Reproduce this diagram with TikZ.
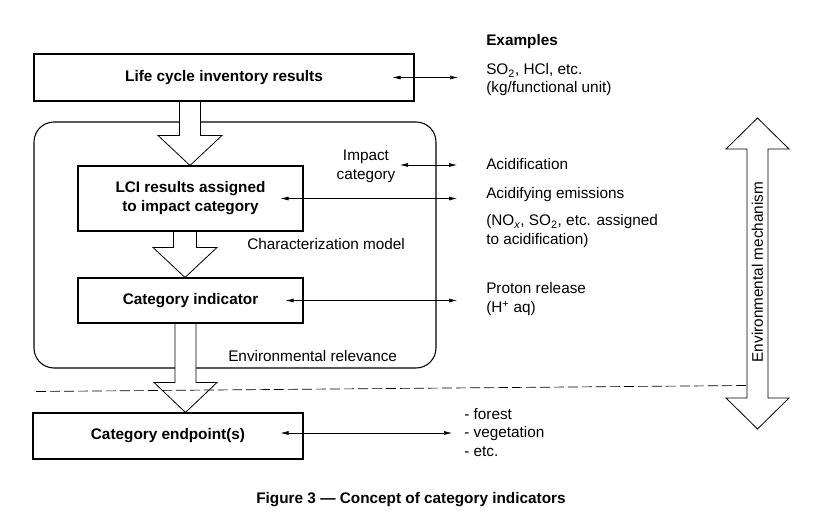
\documentclass[tikz,border=0pt]{standalone}
\usepackage{fontspec}
\setmainfont{Liberation Sans}
\usetikzlibrary{arrows.meta,calc}
\pgfdeclarelayer{bgA}
\pgfdeclarelayer{bgB}
\pgfsetlayers{bgA,bgB,main}
\newcommand\hollowdown[5]{% from node, to node, x coordinate, half shaft, half head
  \coordinate (hdT) at (#1.south -| #3);
  \coordinate (hdB) at (#2.north -| #3);
  \path[hollow] ($(hdT)+(-#4,0)$) -- ($(hdB)+(-#4,-30)$) -- ($(hdB)+(-#5,-30)$) -- (hdB)
    -- ($(hdB)+(#5,-30)$) -- ($(hdB)+(#4,-30)$) -- ($(hdT)+(#4,0)$);
}
\begin{document}
\begin{tikzpicture}[x=0.75pt,y=-0.75pt,
  font=\fontsize{11.5}{14.25}\selectfont,
  box/.style={draw,line width=0.8pt,inner sep=0pt,align=center,font=\fontsize{11.5}{14.25}\selectfont\bfseries},
  hollow/.style={draw,fill=white,line width=0.6pt,line join=miter},
  dbl/.style={{Latex[length=6pt,width=3pt]}-{Latex[length=6pt,width=3pt]},line width=0.45pt},
  lbl/.style={anchor=base west,inner sep=0pt},
  clbl/.style={anchor=base,inner sep=0pt},
]
\useasboundingbox (0,0) rectangle (839,513);

% boxes
\node[box,minimum width=285pt,minimum height=35.25pt] (b1) at (224,77.5) {Life cycle inventory results};
\node[box,minimum width=168.75pt,minimum height=48.75pt] (b2) at (190.5,198.5) {LCI results assigned\\to impact category};
\node[box,minimum width=168.75pt,minimum height=33.75pt] (b3) at (190.5,300.5) {Category indicator};
\node[box,minimum width=202.5pt,minimum height=34.5pt] (b4) at (168,436) {Category endpoint(s)};

% container
\begin{pgfonlayer}{bgA}
\node[draw,line width=0.8pt,rounded corners=15pt,minimum width=301.5pt,minimum height=184.5pt] (ct) at (235,245) {};
\end{pgfonlayer}

% hollow arrows between boxes
\coordinate (ax1) at (190,0);
\coordinate (ax2) at (185,0);
\coordinate (ax3) at (185.5,0);
\begin{pgfonlayer}{bgB}
\hollowdown{b1}{b2}{ax1}{10.5}{32}
\hollowdown{b2}{b3}{ax2}{11.5}{32}
\hollowdown{b3}{b4}{ax3}{10.5}{31.5}
\end{pgfonlayer}

% vertical double hollow arrow
\path[hollow] (747,149) -- (726,149) -- (757.5,118) -- (789,149) -- (768,149)
  -- (768,398) -- (789,398) -- (757.5,429) -- (726,398) -- (747,398) -- cycle;
\node[rotate=90] (em) at (757.5,272) {Environmental mechanism};

% dashed boundary
\coordinate (dl) at (36,391.5);
\coordinate (dr) at (747,385.5);
\draw[dash pattern=on 7.5pt off 3pt,line width=0.5pt] (dl) -- (dr);

% inner labels
\node[clbl] (imp1) at (366,161) {Impact};
\node[clbl] (imp2) at (366,179.5) {category};
\node[lbl] (cm) at (247,250) {Characterization model};
\node[lbl] (er) at (228,361) {Environmental relevance};

% examples column
\node[lbl,font=\fontsize{11.5}{14.25}\selectfont\bfseries] (ex) at (486,46) {Examples};
\node[lbl] (t1) at (486,75) {SO\textsubscript{2}, HCl, etc.};
\node[lbl] (t2) at (486,93) {(kg/functional unit)};
\node[lbl] (t3) at (486,170) {Acidification};
\node[lbl] (t4) at (486,199) {Acidifying emissions};
\node[lbl] (t5) at (486,226) {(NO\textsubscript{\itshape x}, SO\textsubscript{2}, etc. assigned};
\node[lbl] (t6) at (486,245) {to acidification)};
\node[lbl] (t7) at (486,294) {Proton release};
\node[lbl] (t8) at (486,313) {(H\textsuperscript{+} aq)};
\node[lbl] (t9) at (464,419) {- forest};
\node[lbl] (t10) at (464,437.5) {- vegetation};
\node[lbl] (t11) at (464,456) {- etc.};

% thin double arrows
\coordinate (e1r) at (458,77.5);
\coordinate (e2l) at (400,165);
\coordinate (e2r) at (457,165);
\coordinate (e3r) at (457,198.5);
\coordinate (e4r) at (457,300.5);
\coordinate (e5r) at (452,433);
\draw[dbl] ($(b1.east)+(-22,0)$) -- (e1r);
\draw[dbl] (e2l) -- (e2r);
\draw[dbl] ($(b2.east)+(-23,0)$) -- (e3r);
\draw[dbl] ($(b3.east)+(-18,0)$) -- (e4r);
\draw[dbl] ($(b4.east)+(-23,-3)$) -- (e5r);

% caption
\node[clbl,font=\fontsize{11.5}{14.25}\selectfont\bfseries] (cap) at (411,503) {Figure 3 — Concept of category indicators};
\end{tikzpicture}
\end{document}
